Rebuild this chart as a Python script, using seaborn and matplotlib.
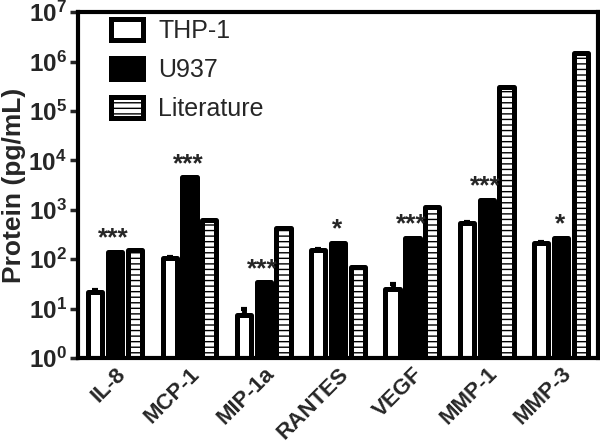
import numpy as np
import pandas as pd
import seaborn as sns
from matplotlib import pyplot as plt
from matplotlib.ticker import FixedLocator, FuncFormatter, NullLocator

cytokines = ['IL-8', 'MCP-1', 'MIP-1a', 'RANTES', 'VEGF', 'MMP-1', 'MMP-3']
sources = ['THP-1', 'U937', 'Literature']
thp1 = [22, 105, 7.4, 155, 25, 540, 210]
u937 = [140, 4500, 34, 215, 270, 1600, 270]
literature = [150, 620, 420, 68, 1150, 300000, 1500000]
thp1_err = [1.5, 6, 2.4, 8, 7, 30, 12]
stars = ['***', '***', '***', '*', '***', '***', '*']

df = pd.DataFrame({
    'cytokine': cytokines * 3,
    'source': np.repeat(sources, len(cytokines)),
    'protein': thp1 + u937 + literature,
})

sns.set_theme(style='ticks')
plt.rcParams['font.family'] = ['Liberation Sans', 'DejaVu Sans']
plt.rcParams['mathtext.fontset'] = 'custom'
plt.rcParams['mathtext.bf'] = 'Liberation Sans:bold'
plt.rcParams['mathtext.rm'] = 'Liberation Sans:bold'
plt.rcParams['hatch.linewidth'] = 1.0
plt.rcParams['hatch.color'] = 'black'

fig = plt.figure(figsize=(6, 4.48), dpi=100)
ax = fig.add_axes([0.13, 0.201, 0.867, 0.772])

sns.barplot(data=df, x='cytokine', y='protein', hue='source',
            palette=['white', 'black', 'white'], width=0.8, gap=0.28,
            edgecolor='black', linewidth=3.6, errorbar=None, legend=False,
            ax=ax)
ax.set_yscale('log')
ax.set_ylim(1, 1e7)
ax.set_xlim(-0.5, 6.5)

conts = list(ax.containers)
for bar in conts[2].patches:
    bar.set_hatch('---')
for c in conts:
    for bar in c.patches:
        bar.set_joinstyle('round')
        bar.set_capstyle('round')

# error bars on THP-1
xs = [b.get_x() + b.get_width() / 2 for b in conts[0].patches]
ax.errorbar(xs, thp1, yerr=[np.zeros(len(thp1)), thp1_err], fmt='none',
            ecolor='black', elinewidth=3.5, capsize=2, capthick=3, zorder=1)

# significance stars over U937
for b, s in zip(conts[1].patches, stars):
    ax.annotate(s, (b.get_x() + b.get_width() / 2, b.get_height()),
                xytext=(-1, 1), textcoords='offset points',
                ha='center', va='bottom', fontsize=19, fontweight='bold',
                zorder=5)

ax.yaxis.set_major_locator(FixedLocator([10.0 ** k for k in range(8)]))
ax.yaxis.set_minor_locator(NullLocator())
ax.yaxis.set_major_formatter(
    FuncFormatter(lambda v, p: r'$\mathbf{10^{%d}}$' % round(np.log10(v))))
ax.tick_params(axis='y', length=6, width=2.5, labelsize=17.5, pad=2)
ax.tick_params(axis='x', length=0, labelsize=16, pad=4)
for lab in ax.get_xticklabels():
    lab.set_rotation(45)
    lab.set_ha('right')
    lab.set_rotation_mode('anchor')
    lab.set_fontweight('bold')

for sp in ax.spines.values():
    sp.set_linewidth(3)
    sp.set_color('black')

ax.set_xlabel('')
ax.set_ylabel('Protein (pg/mL)', fontsize=19, fontweight='bold', labelpad=2)

ax.legend([c.patches[0] for c in conts], sources, loc='upper left',
          bbox_to_anchor=(0.063, 0.98), borderaxespad=0, borderpad=0,
          frameon=False, fontsize=18, handlelength=1.3, handleheight=0.9,
          labelspacing=0.6, handletextpad=0.6)

fig.savefig('out.png', dpi=100)
